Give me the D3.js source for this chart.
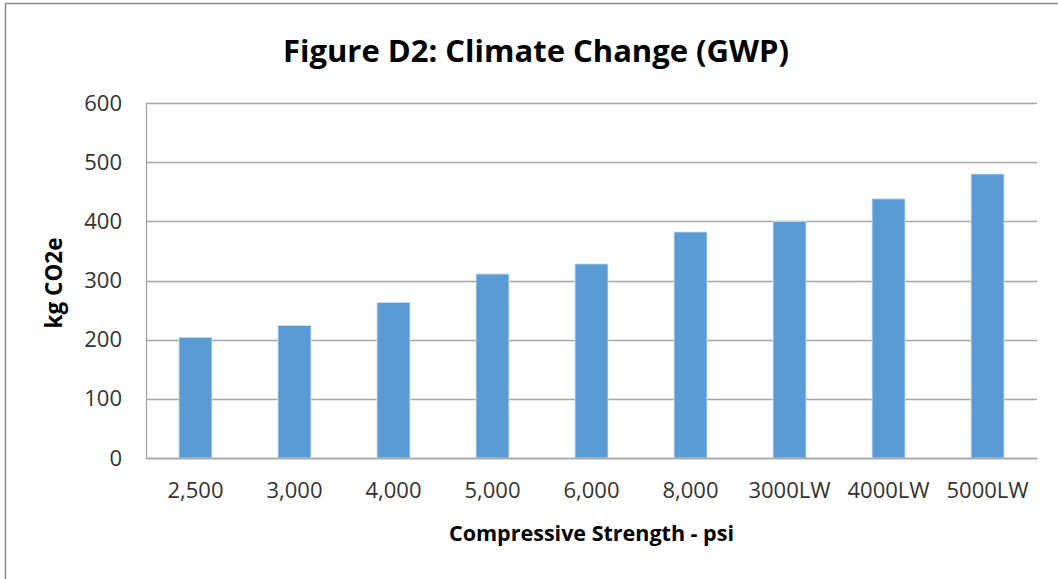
<!DOCTYPE html>
<html>
<head>
<meta charset="utf-8">
<script src="https://cdn.jsdelivr.net/npm/d3@7"></script>
<style>
  body { margin: 0; background: #fff; }
  svg text { font-family: "Open Sans", "Noto Sans", sans-serif; }
</style>
</head>
<body>
<svg id="chart" width="1058" height="579"></svg>
<script>
// categories and values
var categories = ["2,500", "3,000", "4,000", "5,000", "6,000", "8,000", "3000LW", "4000LW", "5000LW"];
var gwpValues = [204, 224, 263, 311, 328, 382, 400, 438, 480];
var yTicks = [0, 100, 200, 300, 400, 500, 600];

var svg = d3.select("#chart");
var margin = {left: 146, right: 21, top: 103, bottom: 121};
var width = 1058 - margin.left - margin.right,
    height = 579 - margin.top - margin.bottom;

// outer chart frame (only top and left edges show in the picture)
svg.append("rect")
    .attr("x", 5.5).attr("y", 3.5)
    .attr("width", 1080).attr("height", 600)
    .attr("fill", "none").attr("stroke", "#8c8c8c").attr("stroke-width", 1.5);

var x = d3.scaleBand().domain(categories).range([0, width]).paddingInner(0.667).paddingOuter(0.333);
var y = d3.scaleLinear().domain([0, 600]).range([height, 0]);

var g = svg.append("g").attr("transform", "translate(" + margin.left + "," + margin.top + ")");

// gridlines
g.append("g")
    .selectAll("line")
    .data(yTicks)
    .enter().append("line")
    .attr("x1", 0).attr("x2", width)
    .attr("y1", function(d) { return Math.round(y(d)) + 0.5; })
    .attr("y2", function(d) { return Math.round(y(d)) + 0.5; })
    .attr("stroke", "#a6a6a6").attr("stroke-width", 1.3);

// bars
g.selectAll(".bar")
    .data(gwpValues)
    .enter().append("rect")
    .attr("class", "bar")
    .attr("x", function(d, i) { return x(categories[i]); })
    .attr("width", x.bandwidth())
    .attr("y", function(d) { return y(d); })
    .attr("height", function(d) { return height - y(d); })
    .attr("fill", "#5b9bd5")
    .attr("stroke", "#d2e3f3").attr("stroke-width", 0.8);

// y axis line
g.append("line")
    .attr("x1", 0.5).attr("x2", 0.5).attr("y1", 0).attr("y2", height)
    .attr("stroke", "#a6a6a6").attr("stroke-width", 1.3);

// y axis labels
var yAxis = d3.axisLeft(y).tickValues(yTicks).tickSize(0).tickPadding(24);
g.append("g").call(yAxis)
    .call(function(a) { a.select(".domain").remove(); })
    .selectAll("text")
    .attr("font-size", 22).attr("fill", "#333")
    .attr("font-family", "'Open Sans', sans-serif");

// x axis labels
var xAxis = d3.axisBottom(x).tickSize(0).tickPadding(24);
g.append("g").attr("transform", "translate(0," + height + ")").call(xAxis)
    .call(function(a) { a.select(".domain").attr("stroke", "#a6a6a6").attr("stroke-width", 1.3); })
    .selectAll("text")
    .attr("font-size", 22).attr("fill", "#333")
    .attr("font-family", "'Open Sans', sans-serif");

// title
svg.append("text")
    .attr("x", 536).attr("y", 62)
    .attr("text-anchor", "middle")
    .attr("font-size", 31).attr("font-weight", "bold").attr("fill", "#000")
    .text("Figure D2: Climate Change (GWP)");

// axis titles
svg.append("text")
    .attr("x", margin.left + width / 2).attr("y", 541)
    .attr("text-anchor", "middle")
    .attr("font-size", 21.5).attr("font-weight", "bold").attr("fill", "#000")
    .text("Compressive Strength - psi");

svg.append("text")
    .attr("transform", "translate(62,283) rotate(-90)")
    .attr("text-anchor", "middle")
    .attr("font-size", 22.5).attr("font-weight", "bold").attr("fill", "#000")
    .text("kg CO2e");
</script>
</body>
</html>
